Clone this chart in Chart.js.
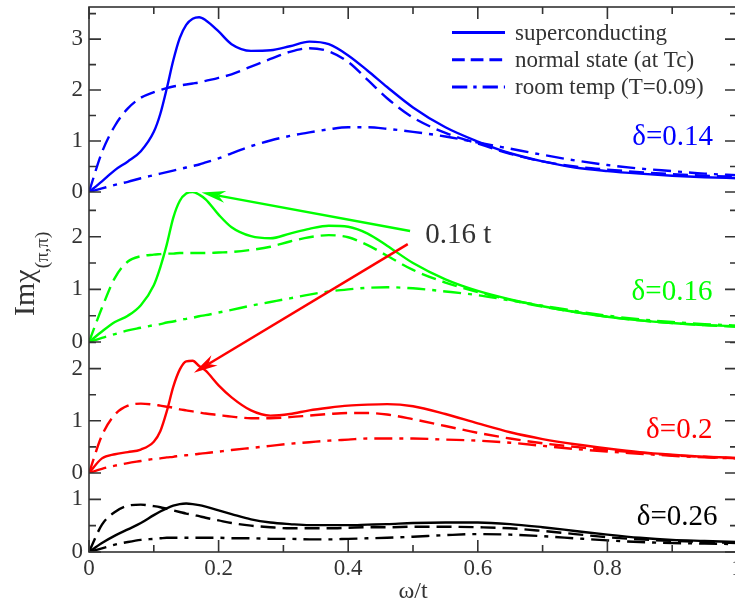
<!DOCTYPE html>
<html>
<head>
<meta charset="utf-8">
<script src="https://cdn.jsdelivr.net/npm/chart.js@4/dist/chart.umd.min.js"></script>
<style>
  html, body { margin: 0; padding: 0; background: #fff; overflow: hidden; }
  #wrap { width: 740px; height: 603px; }
</style>
</head>
<body>
<div id="wrap"><canvas id="c" width="740" height="603"></canvas></div>
<script>
// frequency grid, omega / t
const omega = [0, 0.02, 0.04, 0.06, 0.08, 0.10, 0.11, 0.12, 0.13, 0.14, 0.15, 0.16, 0.17, 0.18,
  0.20, 0.22, 0.25, 0.28, 0.31, 0.34, 0.37, 0.40, 0.43, 0.46, 0.50, 0.55, 0.60, 0.65, 0.70,
  0.75, 0.80, 0.85, 0.90, 0.95, 1.00];

// doping delta = 0.14
const d014_sc = [0, 0.21, 0.43, 0.60, 0.80, 1.18, 1.53, 2.03, 2.58, 3.02, 3.28, 3.40, 3.43, 3.37,
  3.15, 2.90, 2.77, 2.78, 2.86, 2.95, 2.90, 2.68, 2.38, 2.06, 1.66, 1.27, 0.99, 0.76, 0.60,
  0.48, 0.41, 0.36, 0.32, 0.29, 0.27];
const d014_tc = [0, 0.78, 1.30, 1.64, 1.85, 1.96, 2.00, 2.04, 2.07, 2.09, 2.11, 2.13, 2.15, 2.18,
  2.24, 2.31, 2.46, 2.61, 2.75, 2.82, 2.76, 2.55, 2.20, 1.84, 1.46, 1.16, 0.95, 0.75, 0.60,
  0.50, 0.44, 0.39, 0.35, 0.32, 0.30];
const d014_room = [0, 0.07, 0.14, 0.20, 0.27, 0.33, 0.36, 0.39, 0.42, 0.45, 0.48, 0.51, 0.54, 0.58,
  0.66, 0.76, 0.90, 1.01, 1.10, 1.17, 1.23, 1.27, 1.27, 1.24, 1.18, 1.09, 0.97, 0.85, 0.73,
  0.62, 0.53, 0.46, 0.41, 0.36, 0.33];

// doping delta = 0.16
const d016_sc = [0, 0.20, 0.38, 0.50, 0.70, 1.08, 1.42, 1.85, 2.36, 2.68, 2.82, 2.85, 2.80, 2.71,
  2.42, 2.18, 2.01, 1.97, 2.06, 2.15, 2.21, 2.19, 2.06, 1.83, 1.50, 1.19, 0.97, 0.81, 0.68,
  0.57, 0.48, 0.41, 0.36, 0.32, 0.30];
const d016_tc = [0, 0.65, 1.22, 1.53, 1.63, 1.66, 1.67, 1.68, 1.68, 1.69, 1.69, 1.69, 1.69, 1.69,
  1.70, 1.71, 1.75, 1.81, 1.91, 1.99, 2.03, 1.99, 1.84, 1.64, 1.37, 1.13, 0.95, 0.80, 0.67,
  0.57, 0.48, 0.41, 0.36, 0.32, 0.29];
const d016_room = [0, 0.08, 0.15, 0.22, 0.27, 0.32, 0.34, 0.37, 0.39, 0.42, 0.44, 0.46, 0.49, 0.51,
  0.56, 0.61, 0.69, 0.76, 0.83, 0.90, 0.96, 1.00, 1.03, 1.04, 1.02, 0.96, 0.89, 0.79, 0.69,
  0.59, 0.50, 0.43, 0.38, 0.34, 0.31];

// doping delta = 0.2
const d020_sc = [0, 0.28, 0.36, 0.40, 0.45, 0.60, 0.80, 1.18, 1.65, 1.98, 2.14, 2.15, 2.05, 1.96,
  1.68, 1.45, 1.20, 1.10, 1.13, 1.20, 1.25, 1.29, 1.31, 1.32, 1.28, 1.13, 0.95, 0.78, 0.65,
  0.55, 0.47, 0.40, 0.35, 0.31, 0.29];
const d020_tc = [0, 0.72, 1.12, 1.29, 1.33, 1.31, 1.29, 1.27, 1.25, 1.22, 1.20, 1.18, 1.16, 1.14,
  1.11, 1.08, 1.05, 1.05, 1.07, 1.10, 1.13, 1.15, 1.15, 1.12, 1.03, 0.90, 0.77, 0.66, 0.57,
  0.50, 0.44, 0.39, 0.34, 0.31, 0.28];
const d020_room = [0, 0.08, 0.14, 0.19, 0.23, 0.27, 0.28, 0.30, 0.31, 0.33, 0.34, 0.35, 0.37, 0.38,
  0.41, 0.44, 0.48, 0.52, 0.56, 0.59, 0.62, 0.64, 0.66, 0.66, 0.66, 0.64, 0.62, 0.58, 0.52,
  0.46, 0.41, 0.37, 0.33, 0.30, 0.28];

// doping delta = 0.26
const d026_sc = [0, 0.17, 0.31, 0.43, 0.55, 0.70, 0.77, 0.83, 0.88, 0.91, 0.92, 0.91, 0.89, 0.86,
  0.79, 0.72, 0.62, 0.56, 0.53, 0.51, 0.51, 0.51, 0.52, 0.53, 0.55, 0.56, 0.56, 0.53, 0.47,
  0.40, 0.33, 0.27, 0.23, 0.21, 0.19];
const d026_tc = [0, 0.52, 0.76, 0.88, 0.90, 0.87, 0.85, 0.82, 0.79, 0.76, 0.73, 0.71, 0.68, 0.65,
  0.60, 0.55, 0.50, 0.47, 0.45, 0.45, 0.45, 0.46, 0.47, 0.47, 0.48, 0.48, 0.47, 0.45, 0.40,
  0.34, 0.28, 0.24, 0.21, 0.19, 0.17];
const d026_room = [0, 0.07, 0.14, 0.19, 0.23, 0.25, 0.26, 0.27, 0.27, 0.27, 0.27, 0.27, 0.27, 0.27,
  0.27, 0.26, 0.26, 0.25, 0.25, 0.24, 0.24, 0.25, 0.26, 0.27, 0.29, 0.32, 0.34, 0.33, 0.30,
  0.26, 0.22, 0.19, 0.17, 0.16, 0.15];

const dopingLabels = ['δ=0.14', 'δ=0.16', 'δ=0.2', 'δ=0.26'];
const stateLabels = ['superconducting', 'normal state (at Tc)', 'room temp (T=0.09)'];
const panelMax = [3.63, 2.85, 2.51, 1.5];
const peakNote = '0.16 t';

// ---- styling ----
const SERIF = "'Liberation Serif', 'Times New Roman', serif";
const INK = '#333333';
const panelColors = ['#0000ff', '#00ff00', '#ff0000', '#000000'];
const panelWeights = [185, 150, 131, 79];
const dashStyles = [[], [15, 7], [18, 7, 4, 7]];
const panelSeries = [
  [d014_sc, d014_tc, d014_room],
  [d016_sc, d016_tc, d016_room],
  [d020_sc, d020_tc, d020_room],
  [d026_sc, d026_tc, d026_room]
];

const datasets = [];
panelSeries.forEach((series, p) => {
  series.forEach((vals, s) => {
    datasets.push({
      label: dopingLabels[p] + ' ' + stateLabels[s],
      data: omega.map((w, i) => ({ x: w, y: vals[i] })),
      yAxisID: 'y' + p,
      borderColor: panelColors[p],
      borderWidth: 2.4,
      borderDash: dashStyles[s],
      pointRadius: 0,
      fill: false,
      cubicInterpolationMode: 'monotone'
    });
  });
});

const scales = {
  x: {
    type: 'linear', min: 0, max: 1,
    grid: { display: false, drawTicks: false },
    border: { display: false },
    ticks: {
      stepSize: 0.2, padding: 3, color: INK, font: { family: SERIF, size: 23 }, maxRotation: 0,
      callback: v => String(Math.round(v * 10) / 10)
    },
    afterFit: s => { s.height = 51; s.paddingLeft = 0; s.paddingRight = 0; }
  }
};
// stacked panels: the layout places later-defined axes higher up
[3, 2, 1, 0].forEach(p => {
  scales['y' + p] = {
    type: 'linear', position: 'left', stack: 'panels', stackWeight: panelWeights[p],
    min: 0, max: panelMax[p],
    grid: { display: false, drawTicks: false },
    border: { display: false },
    ticks: { stepSize: 1, autoSkip: false, padding: 6, color: INK, font: { family: SERIF, size: 23 } },
    // labelled ticks only at whole numbers inside each panel
    afterBuildTicks: s => {
      const n = Math.floor(s.max + 1e-6);
      s.ticks = Array.from({ length: n + 1 }, (_, i) => ({ value: i }));
    },
    afterFit: s => { s.width = 89; s.paddingTop = 0; s.paddingBottom = 0; }
  };
});

// frame with inward major / minor ticks on all four sides
const frameTicks = {
  id: 'frameTicks',
  afterDatasetsDraw(chart) {
    const { ctx, chartArea: a, scales: sc } = chart;
    ctx.save();
    ctx.strokeStyle = INK;
    ctx.lineWidth = 1.6;
    ctx.strokeRect(a.left, a.top, a.right - a.left, a.bottom - a.top);
    const MAJ = 12, MIN = 7;
    const xs = sc.x;
    const xt = xs.ticks.map(t => t.value);
    const xMarks = [];
    xt.forEach((v, i) => {
      xMarks.push([v, MAJ]);
      if (i < xt.length - 1) xMarks.push([(v + xt[i + 1]) / 2, MIN]);
    });
    ctx.beginPath();
    xMarks.forEach(([v, len]) => {
      const px = xs.getPixelForValue(v);
      ctx.moveTo(px, a.bottom); ctx.lineTo(px, a.bottom - len);
      ctx.moveTo(px, a.top); ctx.lineTo(px, a.top + len);
    });
    panelMax.forEach((m, p) => {
      const ys = sc['y' + p];
      for (let k = 0; k * 0.5 <= m + 1e-6; k++) {
        const v = k * 0.5;
        const len = (k % 2 === 0) ? MAJ : MIN;
        const py = ys.getPixelForValue(v);
        ctx.moveTo(a.left, py); ctx.lineTo(a.left + len, py);
        ctx.moveTo(a.right, py); ctx.lineTo(a.right - len, py);
      }
    });
    ctx.stroke();
    ctx.restore();
  }
};

// axis titles, legend, panel labels and arrows
const decorations = {
  id: 'decorations',
  afterDraw(chart) {
    const { ctx, chartArea: a, scales: sc } = chart;
    const X = v => sc.x.getPixelForValue(v);
    const Y = (p, v) => sc['y' + p].getPixelForValue(v);
    ctx.save();

    // x title
    ctx.fillStyle = INK;
    ctx.font = '24px ' + SERIF;
    ctx.textAlign = 'center';
    ctx.textBaseline = 'alphabetic';
    ctx.fillText('ω/t', (a.left + a.right) / 2, 598);

    // y title with subscript
    ctx.save();
    ctx.translate(34, 316);
    ctx.rotate(-Math.PI / 2);
    ctx.textAlign = 'left';
    ctx.font = '30px ' + SERIF;
    ctx.fillText('Imχ', 0, 0);
    const w = ctx.measureText('Imχ').width;
    ctx.font = '19px ' + SERIF;
    ctx.fillText('(π,π)', w + 1, 14);
    ctx.restore();

    // legend
    ctx.textAlign = 'left';
    ctx.textBaseline = 'middle';
    ctx.font = '23px ' + SERIF;
    stateLabels.forEach((lab, i) => {
      const ly = a.top + 25.5 + i * 27.3;
      ctx.strokeStyle = panelColors[0];
      ctx.lineWidth = 3;
      ctx.setLineDash(dashStyles[i].length ? dashStyles[i].map(d => d * 0.85) : []);
      ctx.beginPath();
      ctx.moveTo(a.left + 363, ly); ctx.lineTo(a.left + 416, ly);
      ctx.stroke();
      ctx.setLineDash([]);
      ctx.fillStyle = INK;
      ctx.fillText(lab, a.left + 426, ly + 1);
    });

    // panel labels
    ctx.textAlign = 'right';
    ctx.textBaseline = 'alphabetic';
    ctx.font = '29px ' + SERIF;
    const lab = [[0.963, 0.92], [0.962, 0.80], [0.962, 0.68], [0.970, 0.51]];
    dopingLabels.forEach((t, p) => {
      ctx.fillStyle = panelColors[p];
      ctx.fillText(t, X(lab[p][0]), Y(p, lab[p][1]));
    });

    // peak annotation
    ctx.textAlign = 'left';
    ctx.fillStyle = INK;
    ctx.font = '29px ' + SERIF;
    ctx.fillText(peakNote, X(0.519), Y(1, 1.88));

    function arrow(x1, y1, x2, y2, color) {
      const ang = Math.atan2(y2 - y1, x2 - x1);
      const c = Math.cos(ang), s = Math.sin(ang);
      const L = 24, W = 6, N = 17;
      ctx.strokeStyle = color; ctx.fillStyle = color; ctx.lineWidth = 2.5;
      ctx.beginPath();
      ctx.moveTo(x1, y1); ctx.lineTo(x2 - c * N, y2 - s * N);
      ctx.stroke();
      ctx.beginPath();
      ctx.moveTo(x2, y2);
      ctx.lineTo(x2 - L * c + W * s, y2 - L * s - W * c);
      ctx.lineTo(x2 - N * c, y2 - N * s);
      ctx.lineTo(x2 - L * c - W * s, y2 - L * s + W * c);
      ctx.closePath();
      ctx.fill();
    }
    arrow(X(0.4955), Y(1, 2.11), X(0.1737), Y(1, 2.84), panelColors[1]);
    arrow(X(0.4919), Y(1, 1.86), X(0.1619), Y(2, 1.92), panelColors[2]);

    ctx.restore();
  }
};

new Chart(document.getElementById('c'), {
  type: 'line',
  data: { datasets },
  options: {
    responsive: false,
    animation: false,
    events: [],
    layout: { padding: { top: 7, right: 3, left: 0, bottom: 0 } },
    plugins: { legend: { display: false }, tooltip: { enabled: false }, title: { display: false } },
    scales
  },
  plugins: [frameTicks, decorations]
});
</script>
</body>
</html>
